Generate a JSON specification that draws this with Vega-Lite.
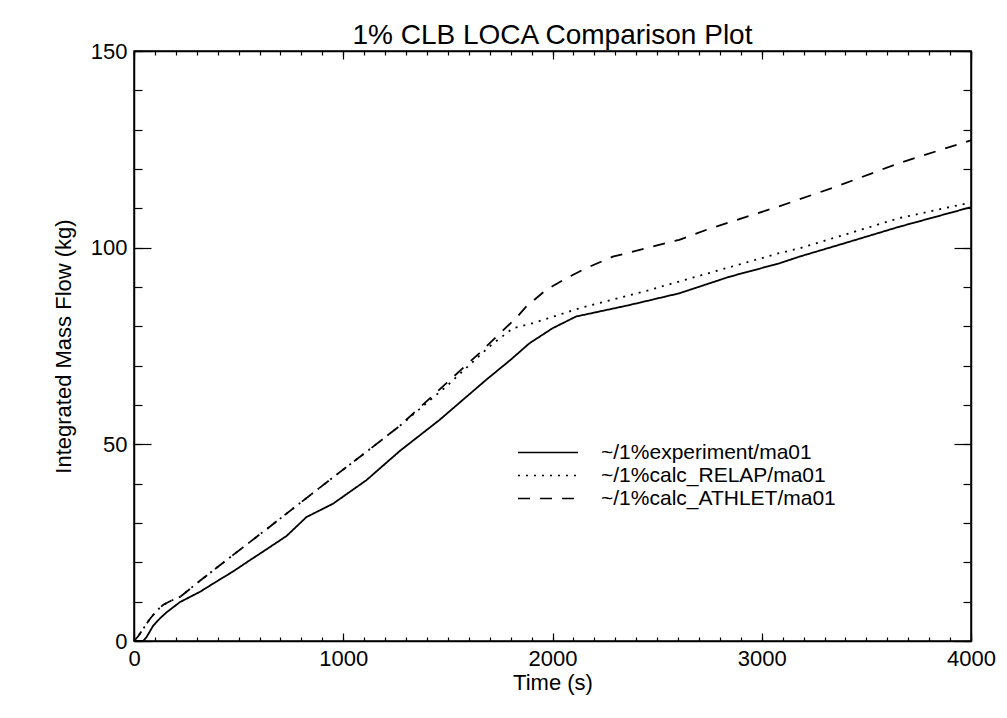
{
  "$schema": "https://vega.github.io/schema/vega-lite/v6.json",
  "autosize": {"type": "none"},
  "width": 837,
  "height": 590,
  "padding": {"left": 134, "top": 51, "right": 36, "bottom": 77},
  "background": "white",
  "title": {"text": "1% CLB LOCA Comparison Plot", "fontSize": 28, "font": "Liberation Sans", "fontWeight": "normal", "color": "black", "anchor": "middle", "offset": -10},
  "config": {
    "view": {"stroke": "black", "strokeWidth": 1.5},
    "axis": {"grid": false, "domainColor": "black", "domainWidth": 1.5, "tickColor": "black", "tickWidth": 1.2, "labelFont": "Liberation Sans", "labelFontSize": 22, "labelColor": "black", "titleFont": "Liberation Sans", "titleFontSize": 22, "titleFontWeight": "normal", "titleColor": "black"},
    "legend": {"labelFont": "Liberation Sans", "labelFontSize": 21, "labelColor": "black"}
  },
  "data": {"values": [
    {"run": "~/1%experiment/ma01", "t": 0, "v": 0},
    {"run": "~/1%experiment/ma01", "t": 44, "v": 0},
    {"run": "~/1%experiment/ma01", "t": 60, "v": 1},
    {"run": "~/1%experiment/ma01", "t": 92, "v": 3.9},
    {"run": "~/1%experiment/ma01", "t": 125, "v": 5.8},
    {"run": "~/1%experiment/ma01", "t": 156, "v": 7.3},
    {"run": "~/1%experiment/ma01", "t": 220, "v": 9.9},
    {"run": "~/1%experiment/ma01", "t": 315, "v": 12.5},
    {"run": "~/1%experiment/ma01", "t": 400, "v": 15.3},
    {"run": "~/1%experiment/ma01", "t": 474, "v": 17.7},
    {"run": "~/1%experiment/ma01", "t": 550, "v": 20.4},
    {"run": "~/1%experiment/ma01", "t": 633, "v": 23.3},
    {"run": "~/1%experiment/ma01", "t": 729, "v": 26.7},
    {"run": "~/1%experiment/ma01", "t": 824, "v": 31.5},
    {"run": "~/1%experiment/ma01", "t": 951, "v": 34.9},
    {"run": "~/1%experiment/ma01", "t": 1111, "v": 40.9},
    {"run": "~/1%experiment/ma01", "t": 1270, "v": 48.3},
    {"run": "~/1%experiment/ma01", "t": 1460, "v": 56.2},
    {"run": "~/1%experiment/ma01", "t": 1683, "v": 66.4},
    {"run": "~/1%experiment/ma01", "t": 1800, "v": 71.5},
    {"run": "~/1%experiment/ma01", "t": 1890, "v": 75.7},
    {"run": "~/1%experiment/ma01", "t": 2000, "v": 79.5},
    {"run": "~/1%experiment/ma01", "t": 2113, "v": 82.5},
    {"run": "~/1%experiment/ma01", "t": 2367, "v": 85.4},
    {"run": "~/1%experiment/ma01", "t": 2606, "v": 88.4},
    {"run": "~/1%experiment/ma01", "t": 2845, "v": 92.6},
    {"run": "~/1%experiment/ma01", "t": 3083, "v": 96.0},
    {"run": "~/1%experiment/ma01", "t": 3179, "v": 97.7},
    {"run": "~/1%experiment/ma01", "t": 3400, "v": 101.2},
    {"run": "~/1%experiment/ma01", "t": 3656, "v": 105.3},
    {"run": "~/1%experiment/ma01", "t": 4000, "v": 110.3},
    {"run": "~/1%calc_RELAP/ma01", "t": 0, "v": 0},
    {"run": "~/1%calc_RELAP/ma01", "t": 20, "v": 1.2},
    {"run": "~/1%calc_RELAP/ma01", "t": 40, "v": 2.8},
    {"run": "~/1%calc_RELAP/ma01", "t": 76, "v": 5.6},
    {"run": "~/1%calc_RELAP/ma01", "t": 110, "v": 7.8},
    {"run": "~/1%calc_RELAP/ma01", "t": 140, "v": 9.2},
    {"run": "~/1%calc_RELAP/ma01", "t": 180, "v": 10.3},
    {"run": "~/1%calc_RELAP/ma01", "t": 220, "v": 11.2},
    {"run": "~/1%calc_RELAP/ma01", "t": 315, "v": 15.3},
    {"run": "~/1%calc_RELAP/ma01", "t": 474, "v": 21.9},
    {"run": "~/1%calc_RELAP/ma01", "t": 633, "v": 28.4},
    {"run": "~/1%calc_RELAP/ma01", "t": 792, "v": 35.0},
    {"run": "~/1%calc_RELAP/ma01", "t": 951, "v": 41.6},
    {"run": "~/1%calc_RELAP/ma01", "t": 1111, "v": 48.1},
    {"run": "~/1%calc_RELAP/ma01", "t": 1270, "v": 54.7},
    {"run": "~/1%calc_RELAP/ma01", "t": 1492, "v": 64.7},
    {"run": "~/1%calc_RELAP/ma01", "t": 1699, "v": 74.9},
    {"run": "~/1%calc_RELAP/ma01", "t": 1810, "v": 79.5},
    {"run": "~/1%calc_RELAP/ma01", "t": 1906, "v": 80.8},
    {"run": "~/1%calc_RELAP/ma01", "t": 2129, "v": 84.6},
    {"run": "~/1%calc_RELAP/ma01", "t": 2447, "v": 89.0},
    {"run": "~/1%calc_RELAP/ma01", "t": 2765, "v": 93.8},
    {"run": "~/1%calc_RELAP/ma01", "t": 3083, "v": 98.6},
    {"run": "~/1%calc_RELAP/ma01", "t": 3179, "v": 99.8},
    {"run": "~/1%calc_RELAP/ma01", "t": 3656, "v": 107.5},
    {"run": "~/1%calc_RELAP/ma01", "t": 4000, "v": 111.5},
    {"run": "~/1%calc_ATHLET/ma01", "t": 0, "v": 0},
    {"run": "~/1%calc_ATHLET/ma01", "t": 20, "v": 1.2},
    {"run": "~/1%calc_ATHLET/ma01", "t": 40, "v": 2.8},
    {"run": "~/1%calc_ATHLET/ma01", "t": 76, "v": 5.6},
    {"run": "~/1%calc_ATHLET/ma01", "t": 110, "v": 7.8},
    {"run": "~/1%calc_ATHLET/ma01", "t": 140, "v": 9.2},
    {"run": "~/1%calc_ATHLET/ma01", "t": 180, "v": 10.3},
    {"run": "~/1%calc_ATHLET/ma01", "t": 220, "v": 11.2},
    {"run": "~/1%calc_ATHLET/ma01", "t": 315, "v": 15.3},
    {"run": "~/1%calc_ATHLET/ma01", "t": 474, "v": 21.9},
    {"run": "~/1%calc_ATHLET/ma01", "t": 633, "v": 28.4},
    {"run": "~/1%calc_ATHLET/ma01", "t": 792, "v": 35.0},
    {"run": "~/1%calc_ATHLET/ma01", "t": 951, "v": 41.6},
    {"run": "~/1%calc_ATHLET/ma01", "t": 1111, "v": 48.1},
    {"run": "~/1%calc_ATHLET/ma01", "t": 1270, "v": 54.7},
    {"run": "~/1%calc_ATHLET/ma01", "t": 1492, "v": 65.5},
    {"run": "~/1%calc_ATHLET/ma01", "t": 1651, "v": 73.2},
    {"run": "~/1%calc_ATHLET/ma01", "t": 1750, "v": 78.3},
    {"run": "~/1%calc_ATHLET/ma01", "t": 1826, "v": 82.1},
    {"run": "~/1%calc_ATHLET/ma01", "t": 1874, "v": 85.0},
    {"run": "~/1%calc_ATHLET/ma01", "t": 1970, "v": 89.3},
    {"run": "~/1%calc_ATHLET/ma01", "t": 2065, "v": 92.2},
    {"run": "~/1%calc_ATHLET/ma01", "t": 2161, "v": 94.8},
    {"run": "~/1%calc_ATHLET/ma01", "t": 2288, "v": 97.7},
    {"run": "~/1%calc_ATHLET/ma01", "t": 2606, "v": 102.0},
    {"run": "~/1%calc_ATHLET/ma01", "t": 2749, "v": 104.8},
    {"run": "~/1%calc_ATHLET/ma01", "t": 3083, "v": 110.5},
    {"run": "~/1%calc_ATHLET/ma01", "t": 3370, "v": 115.8},
    {"run": "~/1%calc_ATHLET/ma01", "t": 3656, "v": 121.5},
    {"run": "~/1%calc_ATHLET/ma01", "t": 4000, "v": 127.3}
  ]},
  "resolve": {"axis": {"x": "independent", "y": "independent"}},
  "layer": [
    {
      "mark": {"type": "line", "color": "black", "strokeWidth": 1.8, "clip": true},
      "encoding": {
        "x": {"field": "t", "type": "quantitative", "scale": {"domain": [0, 4000], "nice": false, "zero": false},
              "axis": {"orient": "bottom", "values": [0, 1000, 2000, 3000, 4000], "format": "d", "tickSize": -8, "labelPadding": 15, "title": "Time (s)", "titlePadding": 3, "labelFlush": false}},
        "y": {"field": "v", "type": "quantitative", "scale": {"domain": [0, 150], "nice": false, "zero": false},
              "axis": {"orient": "left", "values": [0, 50, 100, 150], "format": "d", "tickSize": -17, "labelPadding": 24, "title": "Integrated Mass Flow (kg)", "titlePadding": 15, "labelFlush": false}},
        "strokeDash": {"field": "run", "type": "nominal",
          "scale": {"domain": ["~/1%experiment/ma01", "~/1%calc_RELAP/ma01", "~/1%calc_ATHLET/ma01"], "range": [[1, 0], [2, 6], [12, 10]]},
          "legend": {"title": null, "orient": "none", "legendX": 383, "legendY": 390, "padding": 0, "symbolType": "stroke", "symbolSize": 3600, "symbolStrokeWidth": 1.6, "symbolStrokeColor": "black", "labelOffset": 22, "rowPadding": 0, "clipHeight": 23, "labelLimit": 0}},
        "sort": {"field": "t"}
      }
    },
    {
      "mark": {"type": "point", "opacity": 0},
      "encoding": {
        "x": {"field": "t", "type": "quantitative", "scale": {"domain": [0, 4000], "nice": false, "zero": false},
              "axis": {"orient": "bottom", "values": [0,100,200,300,400,500,600,700,800,900,1000,1100,1200,1300,1400,1500,1600,1700,1800,1900,2000,2100,2200,2300,2400,2500,2600,2700,2800,2900,3000,3100,3200,3300,3400,3500,3600,3700,3800,3900,4000], "tickSize": -4, "labels": false, "domain": false, "title": null}},
        "y": {"field": "v", "type": "quantitative", "scale": {"domain": [0, 150], "nice": false, "zero": false},
              "axis": {"orient": "left", "values": [0,10,20,30,40,50,60,70,80,90,100,110,120,130,140,150], "tickSize": -8, "labels": false, "domain": false, "title": null}}
      }
    },
    {
      "mark": {"type": "point", "opacity": 0},
      "encoding": {
        "x": {"field": "t", "type": "quantitative", "scale": {"domain": [0, 4000], "nice": false, "zero": false},
              "axis": {"orient": "top", "values": [0, 1000, 2000, 3000, 4000], "tickSize": -8, "labels": false, "title": null}},
        "y": {"field": "v", "type": "quantitative", "scale": {"domain": [0, 150], "nice": false, "zero": false},
              "axis": {"orient": "right", "values": [0, 50, 100, 150], "tickSize": -17, "labels": false, "title": null}}
      }
    },
    {
      "mark": {"type": "point", "opacity": 0},
      "encoding": {
        "x": {"field": "t", "type": "quantitative", "scale": {"domain": [0, 4000], "nice": false, "zero": false},
              "axis": {"orient": "top", "values": [0,100,200,300,400,500,600,700,800,900,1000,1100,1200,1300,1400,1500,1600,1700,1800,1900,2000,2100,2200,2300,2400,2500,2600,2700,2800,2900,3000,3100,3200,3300,3400,3500,3600,3700,3800,3900,4000], "tickSize": -4, "labels": false, "domain": false, "title": null}},
        "y": {"field": "v", "type": "quantitative", "scale": {"domain": [0, 150], "nice": false, "zero": false},
              "axis": {"orient": "right", "values": [0,10,20,30,40,50,60,70,80,90,100,110,120,130,140,150], "tickSize": -8, "labels": false, "domain": false, "title": null}}
      }
    }
  ]
}
